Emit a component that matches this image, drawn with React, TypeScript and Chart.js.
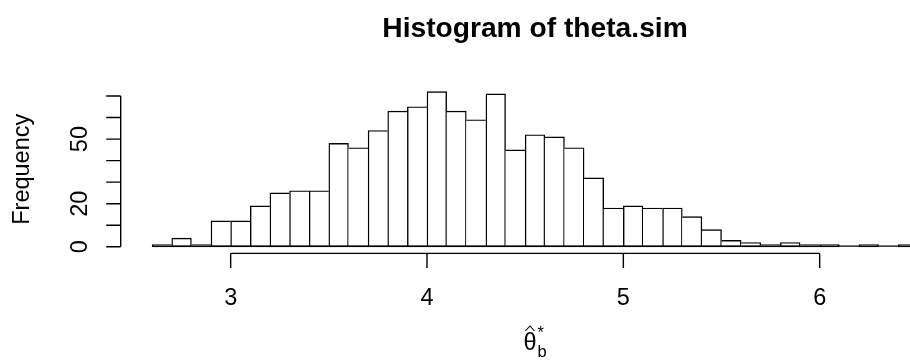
import React, { useEffect, useRef } from "react";
import { Chart, registerables } from "chart.js";

Chart.register(...registerables);

// ---- data ----
const binStarts = [2.6, 2.7, 2.8, 2.9, 3.0, 3.1, 3.2, 3.3, 3.4, 3.5, 3.6, 3.7, 3.8, 3.9, 4.0, 4.1, 4.2, 4.3, 4.4, 4.5, 4.6, 4.7, 4.8, 4.9, 5.0, 5.1, 5.2, 5.3, 5.4, 5.5, 5.6, 5.7, 5.8, 5.9, 6.0, 6.1, 6.2, 6.3, 6.4];
const counts = [1, 4, 1, 12, 12, 19, 25, 26, 26, 48, 46, 54, 63, 65, 72, 63, 59, 71, 45, 52, 51, 46, 32, 18, 19, 18, 18, 14, 8, 3, 2, 1, 2, 1, 1, 0, 1, 0, 1];
const binWidth = 0.1;
const xTicks = [3, 4, 5, 6];
const xTickLabels = ["3", "4", "5", "6"];
const yTicks = [0, 10, 20, 30, 40, 50, 60, 70];
const yLabelValues = [0, 20, 50];
const yLabelTexts = ["0", "20", "50"];
const xRange = [2.444, 6.46];
const yRange = [-2.88, 74.88];
const titleText = "Histogram of theta.sim";
const yTitleText = "Frequency";

const FONT = '"Liberation Sans", Arial, Helvetica, sans-serif';
const LW = 1.4;
const AXIS_SIZE = 23.5;
const TITLE_SIZE = 28.2;

const rPlugin = {
  id: "rStyle",
  afterDatasetsDraw(chart: any) {
    const { ctx, chartArea } = chart;
    const x = chart.scales.x;
    const y = chart.scales.y;
    ctx.save();
    ctx.strokeStyle = "#000";
    ctx.fillStyle = "#000";
    ctx.lineWidth = LW;
    ctx.lineCap = "butt";

    // baseline under all bins (R draws empty bins as flat rectangles)
    const y0 = y.getPixelForValue(0);
    const bx0 = x.getPixelForValue(binStarts[0]);
    const bx1 = x.getPixelForValue(binStarts[binStarts.length - 1] + binWidth);
    ctx.beginPath();
    ctx.moveTo(bx0, y0 - LW / 2);
    ctx.lineTo(bx1, y0 - LW / 2);
    ctx.stroke();

    // y axis
    const ax = chartArea.left - 0.8;
    const tick = 14.5;
    ctx.beginPath();
    ctx.moveTo(ax, y.getPixelForValue(yTicks[0]));
    ctx.lineTo(ax, y.getPixelForValue(yTicks[yTicks.length - 1]));
    for (const t of yTicks) {
      const py = y.getPixelForValue(t);
      ctx.moveTo(ax, py);
      ctx.lineTo(ax - tick, py);
    }
    ctx.stroke();
    ctx.font = `${AXIS_SIZE}px ${FONT}`;
    ctx.textAlign = "center";
    ctx.textBaseline = "alphabetic";
    yLabelValues.forEach((v, i) => {
      const py = y.getPixelForValue(v);
      ctx.save();
      ctx.translate(87, py);
      ctx.rotate(-Math.PI / 2);
      ctx.fillText(yLabelTexts[i], 0, 0);
      ctx.restore();
    });

    // x axis
    const ay = chartArea.bottom + 0.4;
    ctx.beginPath();
    ctx.moveTo(x.getPixelForValue(xTicks[0]), ay);
    ctx.lineTo(x.getPixelForValue(xTicks[xTicks.length - 1]), ay);
    for (const t of xTicks) {
      const px = x.getPixelForValue(t);
      ctx.moveTo(px, ay);
      ctx.lineTo(px, ay + tick);
    }
    ctx.stroke();
    xTicks.forEach((t, i) => {
      ctx.fillText(xTickLabels[i], x.getPixelForValue(t), 305);
    });

    // titles, centred on the plot region (break range)
    const cx = x.getPixelForValue((binStarts[0] + binStarts[binStarts.length - 1] + binWidth) / 2);
    ctx.font = `bold ${TITLE_SIZE}px ${FONT}`;
    ctx.fillText(titleText, cx, 37);

    ctx.font = `${AXIS_SIZE}px ${FONT}`;
    ctx.save();
    ctx.translate(29, (chartArea.top + chartArea.bottom) / 2);
    ctx.rotate(-Math.PI / 2);
    ctx.fillText(yTitleText, 0, 0);
    ctx.restore();

    // x label: hat(theta)[b]^"*"
    const thetaW = ctx.measureText("\u03B8").width;
    const subSize = AXIS_SIZE * 0.7;
    ctx.font = `${subSize}px ${FONT}`;
    const scriptW = Math.max(ctx.measureText("b").width, ctx.measureText("*").width);
    const totalW = thetaW + scriptW + 1;
    const tx = cx - totalW / 2;
    const tBase = 350;
    ctx.font = `${AXIS_SIZE}px ${FONT}`;
    ctx.textAlign = "left";
    ctx.fillText("\u03B8", tx, tBase);
    // hat
    ctx.lineWidth = 1.1;
    ctx.beginPath();
    ctx.moveTo(tx + thetaW * 0.15, tBase - 19);
    ctx.lineTo(tx + thetaW * 0.5, tBase - 24);
    ctx.lineTo(tx + thetaW * 0.85, tBase - 19);
    ctx.stroke();
    ctx.font = `${subSize}px ${FONT}`;
    ctx.fillText("*", tx + thetaW + 1, tBase - 12);
    ctx.fillText("b", tx + thetaW + 1, tBase + 7);

    ctx.restore();
  },
};

export default function App() {
  const ref = useRef<HTMLCanvasElement | null>(null);
  useEffect(() => {
    if (!ref.current) return;
    const data = binStarts.map((s, i) => ({ x: s + binWidth / 2, y: counts[i] }));
    const chart = new Chart(ref.current, {
      type: "bar",
      data: {
        datasets: [
          {
            data: data as any,
            backgroundColor: "#ffffff",
            borderColor: "#000000",
            borderSkipped: false,
            borderWidth: (c: any) => {
              const i = c.dataIndex;
              const h = counts[i];
              const prev = i > 0 ? counts[i - 1] : -1;
              const next = i < counts.length - 1 ? counts[i + 1] : -1;
              return { top: LW, bottom: LW, left: h >= prev ? LW : 0, right: h > next ? LW : 0 };
            },
            barPercentage: 1,
            categoryPercentage: 1,
            grouped: false,
          } as any,
        ],
      },
      options: {
        animation: false,
        responsive: false,
        maintainAspectRatio: false,
        layout: { padding: { left: 121.5, right: 0, top: 85.5, bottom: 107 } },
        plugins: { legend: { display: false }, tooltip: { enabled: false }, title: { display: false } },
        scales: {
          x: {
            type: "linear",
            display: false,
            offset: false,
            bounds: "data",
            min: xRange[0],
            max: xRange[1],
            grid: { offset: false },
            afterBuildTicks: (s: any) => {
              s.ticks = xTicks.map((v) => ({ value: v }));
            },
          },
          y: {
            type: "linear",
            display: false,
            bounds: "data",
            min: yRange[0],
            max: yRange[1],
            afterBuildTicks: (s: any) => {
              s.ticks = yTicks.map((v) => ({ value: v }));
            },
          },
        },
      },
      plugins: [rPlugin],
    });
    return () => chart.destroy();
  }, []);
  return (
    <div style={{ position: "fixed", left: 0, top: 0, width: 910, height: 360, background: "#fff" }}>
      <canvas ref={ref} width={910} height={360} style={{ display: "block", width: 910, height: 360 }} />
    </div>
  );
}
